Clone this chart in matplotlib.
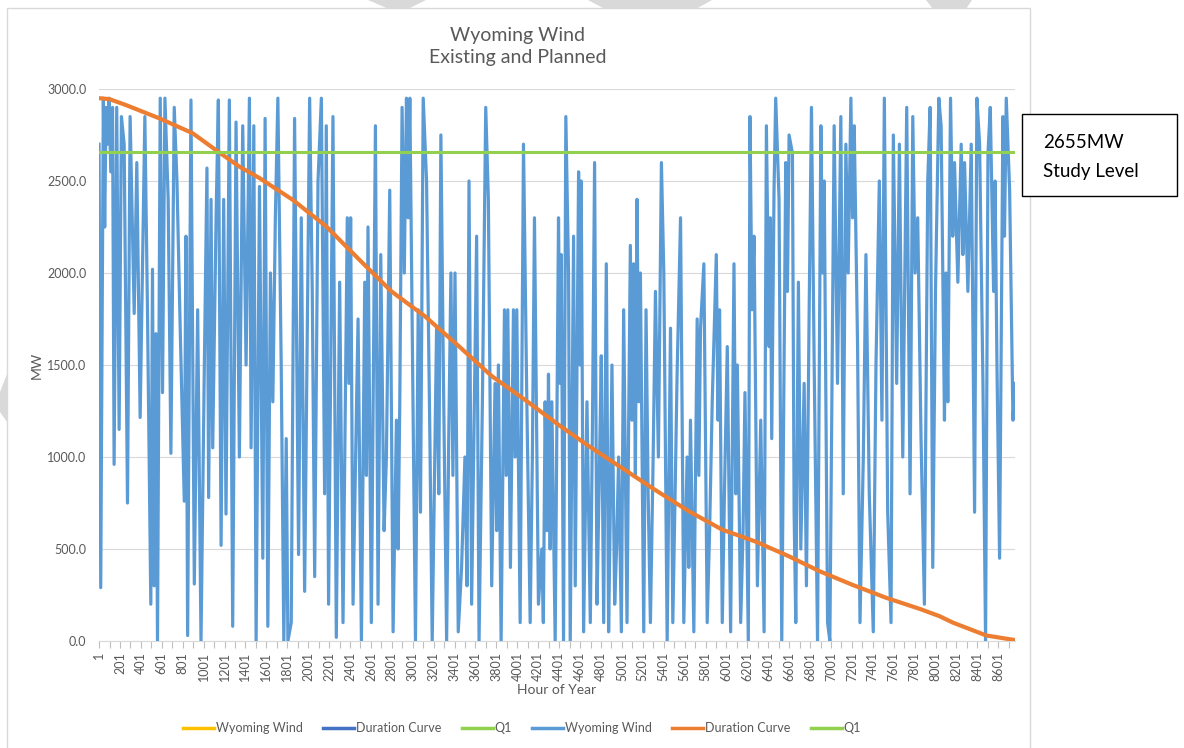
import matplotlib
matplotlib.use("Agg")
import matplotlib.pyplot as plt
from matplotlib.lines import Line2D
from matplotlib.patches import Rectangle, Polygon

W, H = 1184, 748

# hourly wind output (peaks / troughs)
wind_hour = [1, 17, 42, 55, 68, 81, 97, 113, 130, 145, 170, 193, 215, 241, 273, 298, 337, 362, 394, 439,
             464, 496, 512, 528, 544, 560, 586, 608, 631, 662, 688, 720, 746, 777, 816, 832, 848, 880, 912, 944,
             976, 1008, 1033, 1049, 1072, 1088, 1120, 1142, 1168, 1193, 1215, 1247, 1279, 1311, 1343, 1375, 1407,
             1439, 1455, 1481, 1503, 1535, 1567, 1589, 1615, 1640, 1663, 1687, 1711, 1743, 1768, 1791, 1807, 1839,
             1871, 1909, 1935, 1967, 2015, 2040, 2063, 2095, 2127, 2158,
             2174, 2196, 2238, 2270, 2302, 2334, 2375, 2391, 2407, 2430, 2452, 2478, 2510, 2542, 2558, 2573, 2605,
             2644, 2669, 2695, 2727, 2749, 2781, 2813, 2845, 2861, 2877, 2899, 2920, 2941, 2957, 2973, 3005, 3027,
             3053, 3075, 3101, 3133, 3165, 3187, 3209, 3229, 3250, 3270, 3293, 3325, 3345, 3366, 3385, 3405, 3436,
             3468, 3500, 3520, 3539, 3564, 3590, 3612, 3635, 3667, 3699, 3724, 3756, 3788, 3804, 3820, 3846, 3878,
             3895, 3910, 3935, 3964, 3980, 3996, 4028, 4060, 4092, 4124, 4145, 4165, 4203, 4235, 4250, 4267, 4285,
             4299, 4315, 4331, 4363,
             4395, 4410, 4421, 4443, 4465, 4491, 4507, 4539, 4555, 4587, 4600, 4612, 4635, 4667, 4699, 4720, 4740,
             4763, 4785, 4804, 4827, 4852, 4874, 4890, 4906, 4932, 4950, 4970, 4996, 5018, 5050, 5066, 5082, 5098,
             5114, 5130, 5146, 5162, 5178, 5210, 5232, 5252, 5274, 5300, 5322, 5350, 5379, 5402, 5434, 5466, 5488,
             5510, 5529, 5562, 5593, 5625, 5641, 5657, 5689, 5705, 5721, 5737, 5753, 5785, 5817, 5840, 5865, 5904,
             5920, 5935, 5961, 5985, 6009, 6041, 6073, 6090, 6105, 6137, 6160, 6178, 6210, 6226, 6245, 6265, 6297,
             6329, 6361, 6383, 6409, 6420, 6434, 6456, 6472, 6504, 6530, 6568, 6584, 6600,
             6632, 6648, 6664, 6689, 6712, 6744, 6766, 6792, 6814, 6840, 6872, 6904, 6920, 6936, 6968, 6990, 7031,
             7063, 7095, 7118, 7143, 7165, 7191, 7207, 7223, 7255, 7278, 7310, 7335, 7367, 7405, 7431, 7463, 7488,
             7511, 7543, 7575, 7597, 7629, 7655, 7687, 7725, 7757, 7783, 7805, 7830, 7862, 7894, 7926, 7949, 7974,
             8000, 8032, 8054, 8086, 8100, 8118, 8144, 8165, 8182, 8214, 8246, 8262, 8278, 8310, 8342, 8374, 8396,
             8422, 8454, 8479, 8502, 8524, 8556, 8570, 8588, 8613, 8645, 8660, 8677, 8709, 8741, 8760]
wind_mw = [2700, 290, 2950, 2250, 2900, 2700, 2950, 2550, 2900, 960, 2900, 1150, 2850, 2700, 750, 2850, 1780, 2600, 1215, 2850,
           1800, 200, 2020, 300, 1670, 0, 2950, 1350, 2950, 2400, 1020, 2900, 2500, 1700, 760, 2200, 30, 2940, 310, 1800,
           0, 1500, 2570, 780, 2400, 1050, 2300, 2940, 520, 2400, 690, 2940, 80, 2820, 1000, 2800, 1500,
           2950, 1050, 2800, 0, 2470, 450, 2840, 80, 2000, 1300, 2300, 2950, 1500, 0, 1100, 0, 100,
           2840, 470, 2300, 270, 2950, 1900, 350, 2500, 2950, 800,
           2800, 200, 2850, 20, 1950, 100, 2300, 1400, 2300, 200, 900, 1750, 0, 1950, 900, 2250, 100,
           2800, 200, 2100, 600, 1000, 2450, 50, 1200, 500, 1300, 2900, 2000, 2950, 2300, 2950, 1200, 0,
           1800, 700, 2950, 2500, 1100, 0, 900, 1700, 800, 2750, 1500, 0, 1100, 2000, 900, 2000, 50,
           400, 1000, 300, 2500, 200, 1300, 2200, 0, 1300, 2900, 2400, 300, 1400, 600, 1500, 0, 1800,
           900, 1800, 400, 1800, 1000, 1800, 100, 2700, 1300, 100, 1000, 2300, 200, 500, 100, 1300, 600,
           1450, 500, 1300, 0,
           2300, 1400, 2100, 0, 2850, 2000, 0, 2200, 300, 2550, 1500, 2500, 50, 1300, 100, 1200, 2600,
           200, 900, 1550, 100, 2050, 50, 700, 1500, 200, 500, 1000, 50, 1800, 100, 1200, 2150, 1200,
           2050, 900, 2400, 1300, 2000, 50, 1800, 800, 100, 1000, 1900, 1000, 2600, 2000, 0, 1700, 100,
           800, 1450, 2300, 100, 1000, 400, 1200, 50, 900, 1750, 900, 1700, 2050, 100, 600, 1300, 2100,
           1200, 1800, 100, 900, 1600, 50, 2050, 800, 1500, 100, 600, 1350, 0, 2850, 1800, 2200, 300,
           1200, 50, 2800, 1600, 2300, 1100, 2450, 2950, 2400, 0, 2600, 1900, 2750,
           2650, 700, 100, 1950, 500, 1400, 300, 1800, 2900, 1500, 0, 2800, 2000, 2500, 100, 0, 2800,
           1400, 2850, 800, 2700, 2000, 2950, 2300, 2800, 1600, 100, 1000, 2100, 800, 50, 1500, 2500, 1200,
           2950, 700, 100, 2750, 1400, 2700, 1000, 2900, 800, 2850, 2000, 2300, 1100, 200, 2500, 2900, 400,
           1900, 2950, 2800, 1200, 2000, 1300, 2950, 2200, 2600, 1950, 2700, 2100, 2600, 1900, 2700, 700, 2950,
           2700, 1400, 0, 2650, 2900, 1900, 2500, 1500, 450, 2850, 2200, 2950, 2450, 1200, 1400]

# sorted duration curve
duration_hour = [1, 100, 257, 576, 895, 1119, 1343, 1535, 1855, 2174, 2494, 2797, 3117, 3436, 3756, 4076,
                 4395, 4683, 5002, 5322, 5642, 5961, 6281, 6600, 6888, 7207, 7527, 7847, 8038, 8166, 8486, 8760]
duration_mw = [2950, 2945, 2913, 2841, 2760, 2668, 2578, 2516, 2397, 2253, 2070, 1900, 1765, 1605, 1440, 1310,
               1175, 1060, 940, 820, 705, 605, 540, 460, 380, 305, 235, 175, 135, 100, 30, 5]

study_level = 2655
tick_hours = list(range(1, 8602, 200))
minor_hours = list(range(101, 8702, 200))
y_ticks = [0, 500, 1000, 1500, 2000, 2500, 3000]

font = "Lato"
grey = "#595959"


def fx(x):
    return x / W


def fy(y):
    return 1 - y / H


fig = plt.figure(figsize=(W / 100, H / 100), dpi=100)

# faint page watermark pieces behind the chart area
wm = "#D9D9D9"
for pts in [[(368, 0), (426, 0), (408, 9), (389, 9)],
            [(588, 0), (712, 0), (696, 9), (605, 9)],
            [(926, 0), (972, 0), (966, 9), (933, 9)],
            [(7, 374), (0, 392), (0, 412), (7, 422)]]:
    fig.add_artist(Polygon([(fx(a), fy(b)) for a, b in pts], closed=True, facecolor=wm,
                           edgecolor="none", transform=fig.transFigure, zorder=-3))

# chart area border
fig.add_artist(Rectangle((fx(7), -0.02), fx(1030) - fx(7), fy(8) + 0.02, facecolor="white",
                         edgecolor="#D9D9D9", lw=1.0, transform=fig.transFigure, zorder=-2))

ax = fig.add_axes([fx(99), fy(641), fx(1015) - fx(99), fy(89) - fy(641)])
ax.set_facecolor("none")

ax.plot(wind_hour, wind_mw, color="#5B9BD5", lw=2.3, solid_joinstyle="round", zorder=2)
ax.plot(duration_hour, duration_mw, color="#ED7D31", lw=3.0, solid_capstyle="round", zorder=3)
ax.axhline(study_level, color="#92D050", lw=2.2, zorder=4)

ax.set_xlim(0.5, 8760.5)
ax.set_ylim(0, 3000)

ax.set_yticks(y_ticks)
ax.set_yticklabels([f"{v:.1f}" for v in y_ticks], fontfamily=font)
ax.yaxis.grid(True, color="#D9D9D9", lw=0.8)
ax.set_axisbelow(True)
ax.tick_params(axis="y", length=0, pad=9, labelsize=9, labelcolor=grey)

ax.set_xticks(tick_hours)
ax.set_xticklabels([str(h) for h in tick_hours], fontfamily=font, rotation=90)
ax.set_xticks(minor_hours, minor=True)
ax.tick_params(axis="x", which="both", length=5, width=0.8, color="#BFBFBF", pad=3,
               labelsize=9, labelcolor=grey)

for s in ["top", "left", "right"]:
    ax.spines[s].set_visible(False)
ax.spines["bottom"].set_color("#D9D9D9")
ax.spines["bottom"].set_zorder(1)

ax.set_xlabel("Hour of Year", fontsize=10, color=grey, fontfamily=font)
ax.xaxis.set_label_coords((557 - 99) / 916, (641 - 690) / 552)
ax.xaxis.label.set_va("center")
ax.set_ylabel("MW", fontsize=10, color=grey, fontfamily=font)
ax.yaxis.set_label_coords((37 - 99) / 916, (641 - 365) / 552)
ax.yaxis.label.set_va("center")

fig.text(fx(518), fy(35), "Wyoming Wind", ha="center", va="center", fontsize=14, color=grey, fontfamily=font)
fig.text(fx(518), fy(58), "Existing and Planned", ha="center", va="center", fontsize=14, color=grey,
         fontfamily=font)

handles = [Line2D([], [], color=c, lw=2.5) for c in
           ["#FFC000", "#4472C4", "#92D050", "#5B9BD5", "#ED7D31", "#92D050"]]
labels = ["Wyoming Wind", "Duration Curve", "Q1", "Wyoming Wind", "Duration Curve", "Q1"]
fig.legend(handles, labels, loc="center", bbox_to_anchor=(fx(522), fy(728)), ncol=6, frameon=False,
           prop={"family": font, "size": 9}, labelcolor=grey, handlelength=2.5, handletextpad=0.15,
           columnspacing=1.6)

# study level call-out box
fig.add_artist(Rectangle((fx(1022), fy(196)), fx(1177) - fx(1022), fy(114) - fy(196), facecolor="white",
                         edgecolor="black", lw=1.0, transform=fig.transFigure, zorder=5))
fig.text(fx(1043), fy(142), "2655MW", ha="left", va="center", fontsize=13.5, color="black",
         fontfamily=font, zorder=6)
fig.text(fx(1043), fy(172), "Study Level", ha="left", va="center", fontsize=13.5, color="black",
         fontfamily=font, zorder=6)

fig.savefig("out.png", dpi=100)
